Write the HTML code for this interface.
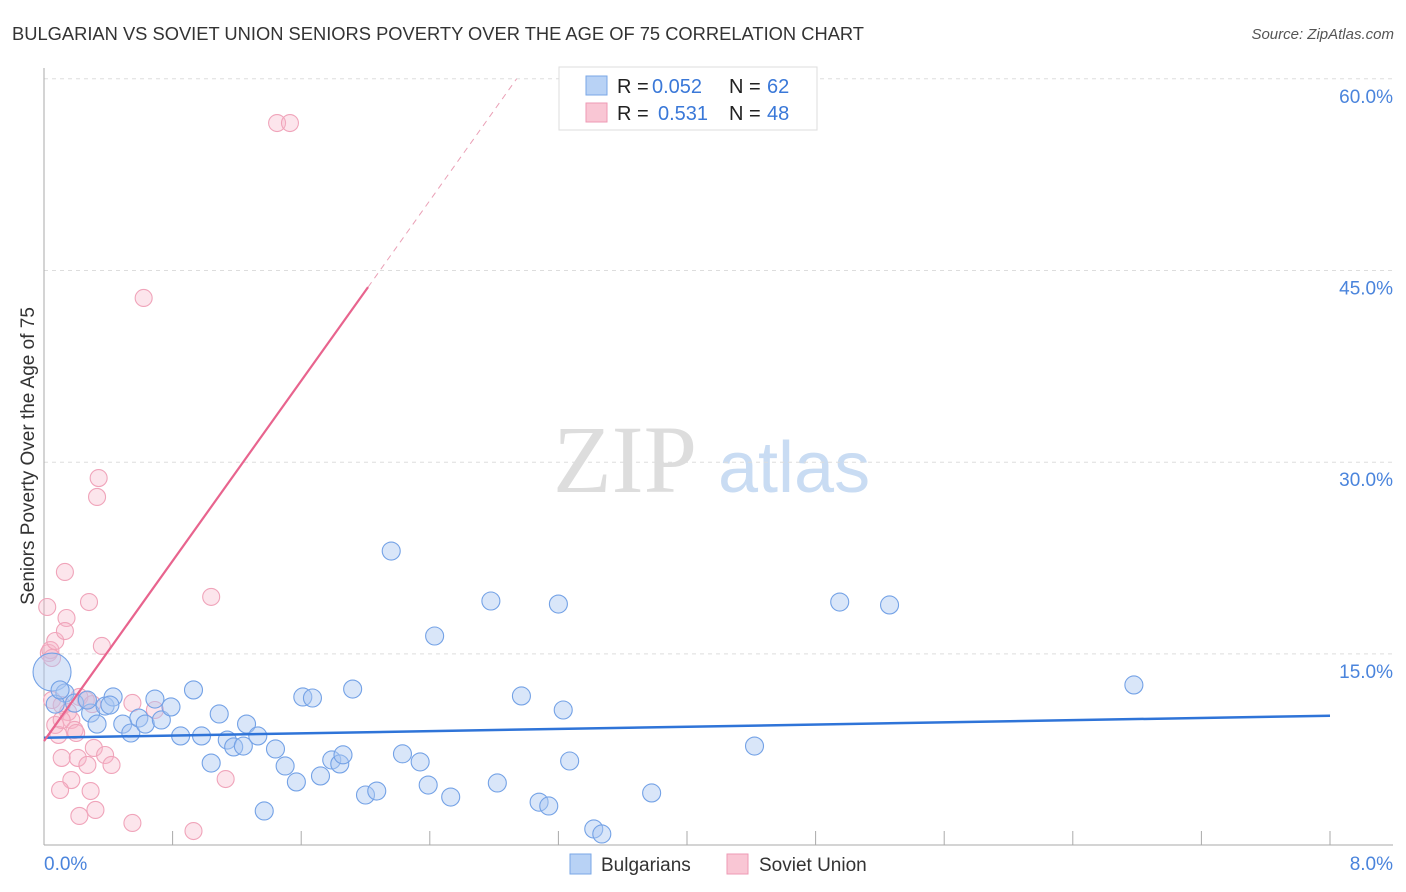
<!DOCTYPE html>
<html><head><meta charset="utf-8"><style>
body{margin:0;background:#fff;font-family:"Liberation Sans",sans-serif;}
svg{display:block}
</style></head><body>
<svg id="chart" width="1406" height="892">
<text x="12" y="40" font-size="18" fill="#333" textLength="852" lengthAdjust="spacingAndGlyphs">BULGARIAN VS SOVIET UNION SENIORS POVERTY OVER THE AGE OF 75 CORRELATION CHART</text>
<text x="1394" y="39" font-size="15" fill="#555" font-style="italic" text-anchor="end">Source: ZipAtlas.com</text>
<g>
<text x="553" y="492" font-size="96" fill="#ddd" font-family="Liberation Serif,serif">ZIP</text>
<text x="718" y="492" font-size="72" fill="#c9dcf3">atlas</text>
</g>
<g id="grid"></g>
<g id="axes"></g>
<g id="marks"></g>
<text x="34" y="456" font-size="19" fill="#333" text-anchor="middle" transform="rotate(-90 34 456)">Seniors Poverty Over the Age of 75</text>
<g>
<rect x="559" y="67" width="258" height="63" fill="#fff" stroke="#ddd"/>
<rect x="586" y="76" width="21" height="19" fill="#b8d2f5" stroke="#7aa7e6"/>
<rect x="586" y="103" width="21" height="19" fill="#f9c6d4" stroke="#ee9ab4"/>
<text x="617" y="93" font-size="20" fill="#222">R =</text>
<text x="652" y="93" font-size="20" fill="#3a78d8">0.052</text>
<text x="729" y="93" font-size="20" fill="#222">N =</text>
<text x="767" y="93" font-size="20" fill="#3a78d8">62</text>
<text x="617" y="120" font-size="20" fill="#222">R =</text>
<text x="658" y="120" font-size="20" fill="#3a78d8">0.531</text>
<text x="729" y="120" font-size="20" fill="#222">N =</text>
<text x="767" y="120" font-size="20" fill="#3a78d8">48</text>
</g>
<g>
<rect x="570" y="854" width="21" height="20" fill="#b8d2f5" stroke="#7aa7e6"/>
<text x="601" y="871" font-size="19" fill="#333">Bulgarians</text>
<rect x="727" y="854" width="21" height="20" fill="#f9c6d4" stroke="#ee9ab4"/>
<text x="759" y="871" font-size="19" fill="#333">Soviet Union</text>
</g>
</svg>
<script>
const yTicks=[15,30,45,60];
const yTickLabels=["15.0%","30.0%","45.0%","60.0%"];
const xTicks=[0,0.8,1.6,2.4,3.2,4,4.8,5.6,6.4,7.2,8];
const xEndLabels=["0.0%","8.0%"];
const bulgX=[.05,.13,.07,.19,.29,.33,.38,.43,.49,.54,.59,.63,.69,.73,.79,.85,.93,.98,1.04,1.09,1.14,1.18,1.24,1.26,1.33,1.37,1.44,1.50,1.57,1.61,1.67,1.72,1.79,1.84,1.86,1.92,2.00,2.07,2.16,2.23,2.34,2.39,2.43,2.53,2.78,2.82,2.97,3.08,3.14,3.20,3.23,3.27,3.42,3.47,3.78,4.42,4.95,5.26,6.78,.10,.41,.27];
const bulgY=[13.58,11.94,11.07,11.15,10.37,9.51,10.92,11.63,9.51,8.81,9.98,9.51,11.47,9.83,10.85,8.58,12.18,8.58,6.46,10.30,8.26,7.72,7.79,9.51,8.58,2.71,7.56,6.23,4.98,11.63,11.55,5.45,6.70,6.39,7.10,12.25,3.96,4.27,23.05,7.18,6.55,4.74,16.40,3.80,19.14,4.90,11.71,3.40,3.10,18.90,10.61,6.62,1.30,0.91,4.12,7.79,19.06,18.83,12.57,12.18,11.0,11.39];
const sovX=[.02,.03,.04,.05,.07,.13,.14,.13,.28,.34,.33,.36,.62,1.04,1.45,1.53,.05,.07,.09,.11,.15,.17,.22,.26,.30,.19,.20,.11,.17,.10,.22,.32,.21,.27,.31,.38,.42,.55,.69,1.13,.55,.93,.29,.11];
const sovY=[18.67,15.07,15.30,14.68,16.01,21.41,17.81,16.79,19.06,28.76,27.28,15.62,42.85,19.46,56.54,56.54,11.39,9.44,8.66,11.00,10.45,9.83,11.63,11.39,11.07,9.05,8.81,6.86,5.13,4.35,2.32,2.79,6.86,6.31,7.64,7.09,6.31,11.16,10.61,5.21,1.77,1.14,4.27,9.83];
const bigBulgIndex=0;
const bulgTrend=[[0,8.44],[8,10.16]];
const sovTrendSolid=[[0,8.18],[2.016,43.7]];
const sovTrendDash=[[2.016,43.7],[2.94,60]];
const X=v=>44+v/8*1286;
const Y=v=>845.6-v*12.78;
const NS="http://www.w3.org/2000/svg";
function mk(parent,tag,attrs){const e=document.createElementNS(NS,tag);for(const k in attrs)e.setAttribute(k,attrs[k]);document.getElementById(parent).appendChild(e);return e;}
yTicks.forEach((t,i)=>{
 const l=mk('grid','line',{x1:44,x2:1393,y1:Y(t),y2:Y(t),stroke:'#ddd','stroke-dasharray':'4,4'});
 
 
 const tx=mk('grid','text',{x:1393,y:Y(t)+24,'font-size':19,fill:'#4a84dc','text-anchor':'end'});
 tx.textContent=yTickLabels[i];
 
 
});
const yl=mk('axes','line',{x1:44,x2:44,y1:68,y2:845,stroke:'#aaa'});


const xl=mk('axes','line',{x1:44,x2:1393,y1:845,y2:845,stroke:'#aaa'});


xTicks.forEach(t=>{
 const l=mk('axes','line',{x1:X(t),x2:X(t),y1:831,y2:845,stroke:'#aaa'});
 
 
});
[[0,'start'],[8,'end']].forEach((p,i)=>{
 const tx=mk('axes','text',{x:i?1393:44,y:870,'font-size':19,fill:'#4a84dc','text-anchor':p[1]});
 tx.textContent=xEndLabels[i];
 
 
});
sovX.forEach((v,i)=>{
 const c=mk('marks','circle',{cx:X(v),cy:Y(sovY[i]),r:8.5,fill:'rgba(247,180,200,0.35)',stroke:'#f0a4ba','stroke-width':1.1});
 
 
});
bulgX.forEach((v,i)=>{
 const c=mk('marks','circle',{cx:X(v),cy:Y(bulgY[i]),r:i===bigBulgIndex?19:9,fill:'rgba(170,200,242,0.45)',stroke:'#74a2e6','stroke-width':1.1});
 
 
});
const bt=mk('marks','line',{x1:X(bulgTrend[0][0]),y1:Y(bulgTrend[0][1]),x2:X(bulgTrend[1][0]),y2:Y(bulgTrend[1][1]),stroke:'#2f74d8','stroke-width':2.5});


const st=mk('marks','line',{x1:X(sovTrendSolid[0][0]),y1:Y(sovTrendSolid[0][1]),x2:X(sovTrendSolid[1][0]),y2:Y(sovTrendSolid[1][1]),stroke:'#e8648e','stroke-width':2.2});


const sd=mk('marks','line',{x1:X(sovTrendDash[0][0]),y1:Y(sovTrendDash[0][1]),x2:X(sovTrendDash[1][0]),y2:Y(sovTrendDash[1][1]),stroke:'#eaa0b6','stroke-width':1,'stroke-dasharray':'6,5'});


</script>
</body></html>
